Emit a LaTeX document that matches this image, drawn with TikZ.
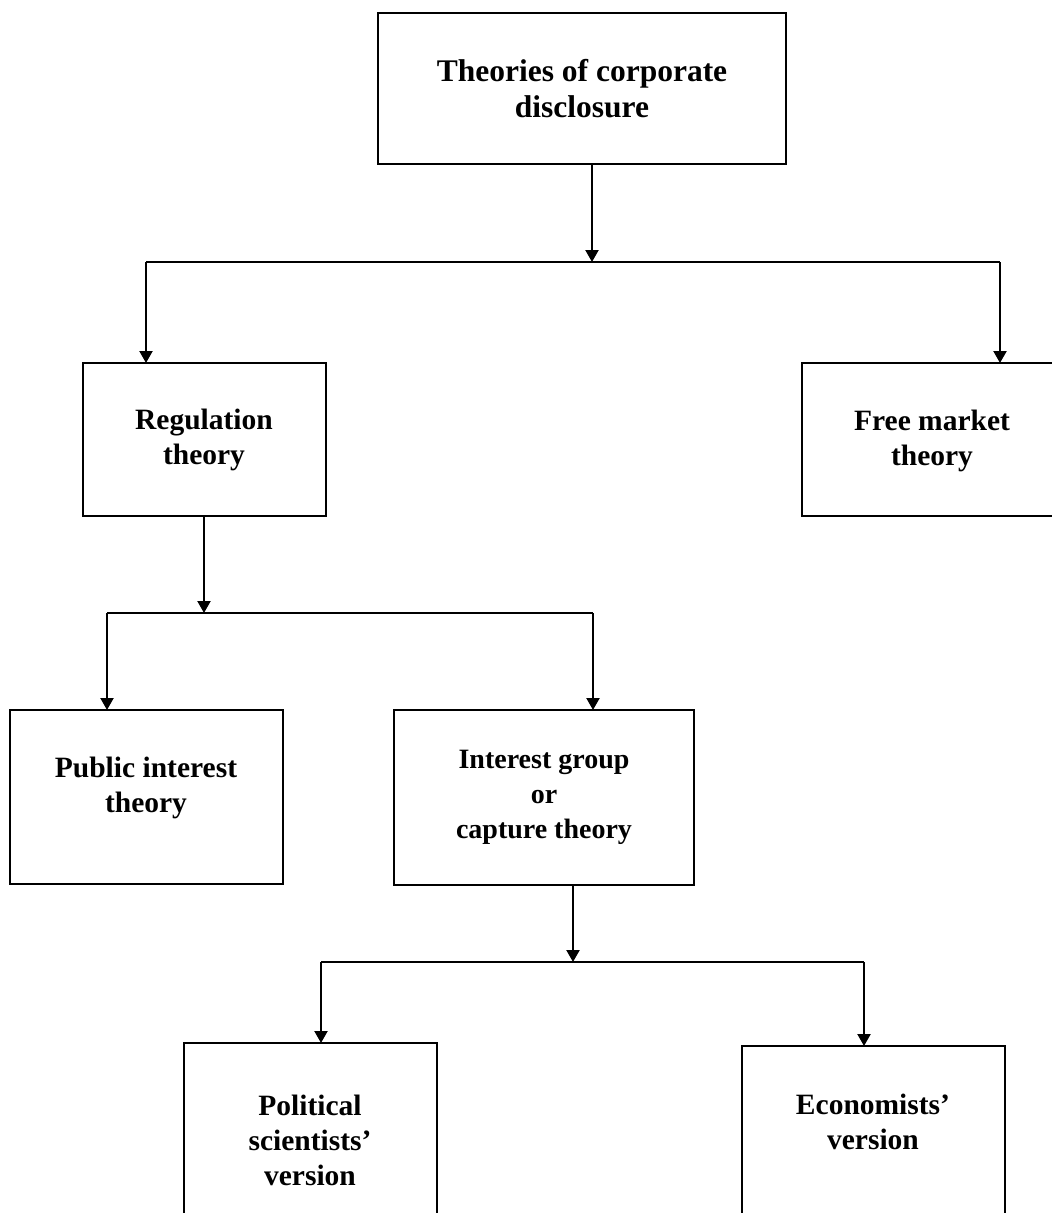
\documentclass[tikz,border=0pt]{standalone}
\usepackage{fontspec}
\setmainfont{Liberation Serif}
\usetikzlibrary{arrows.meta}

\begin{document}
\begin{tikzpicture}[x=1pt,y=-1pt,
  box/.style={draw, line width=2.8pt, inner sep=0pt, outer sep=0pt},
  label text/.style={align=center, inner sep=0pt,
    font=\fontsize{29.5}{35}\selectfont\bfseries},
  bus/.style={line width=2.8pt},
  flow/.style={line width=2.2pt, -{Triangle[width=13pt,length=12pt]}}]

  % page frame
  \useasboundingbox (0,0) rectangle (1052,1213);
  \clip (0,0) rectangle (1052,1213);

  % boxes
  \node[box, minimum width=408pt, minimum height=151pt] (top) at (582,88.5) {};
  \node[box, minimum width=243pt, minimum height=153pt] (reg) at (204.5,439.5) {};
  \node[box, minimum width=260pt, minimum height=153pt] (free) at (932,439.5) {};
  \node[box, minimum width=273pt, minimum height=174pt] (pub) at (146.5,797) {};
  \node[box, minimum width=300pt, minimum height=175pt] (int) at (544,797.5) {};
  \node[box, minimum width=253pt, minimum height=207pt] (pol) at (310.5,1146.5) {};
  \node[box, minimum width=263pt, minimum height=204pt] (eco) at (873.5,1148) {};

  % box captions
  \node[label text, font=\fontsize{31.5}{36}\selectfont\bfseries] (top-t) at (582,89)
    {Theories of corporate\\disclosure};
  \node[label text] (reg-t) at (204,440) {Regulation\\theory};
  \node[label text] (free-t) at (932,441) {Free market\\theory};
  \node[label text] (pub-t) at (146,788) {Public interest\\theory};
  \node[label text, font=\fontsize{28}{35}\selectfont\bfseries] (int-t) at (544,797)
    {Interest group\\or\\capture theory};
  \node[label text] (pol-t) at (310,1140) {Political\\scientists'\\version};
  \node[label text] (eco-t) at (873,1122) {Economists'\\version};

  % first level: disclosure theories
  \coordinate (j1) at (592,262);
  \coordinate (j1l) at (146,262);
  \coordinate (j1r) at (1000,262);
  \draw[flow] (top.south -| j1) -- (j1);
  \draw[bus] (j1l) -- (j1r);
  \draw[flow] (j1l) -- (reg.north -| j1l);
  \draw[flow] (j1r) -- (free.north -| j1r);

  % second level: regulation theory
  \coordinate (j2) at (204,613);
  \coordinate (j2l) at (107,613);
  \coordinate (j2r) at (593,613);
  \draw[flow] (reg.south -| j2) -- (j2);
  \draw[bus] (j2l) -- (j2r);
  \draw[flow] (j2l) -- (pub.north -| j2l);
  \draw[flow] (j2r) -- (int.north -| j2r);

  % third level: capture theory
  \coordinate (j3) at (573,962);
  \coordinate (j3l) at (321,962);
  \coordinate (j3r) at (864,962);
  \draw[flow] (int.south -| j3) -- (j3);
  \draw[bus] (j3l) -- (j3r);
  \draw[flow] (j3l) -- (pol.north -| j3l);
  \draw[flow] (j3r) -- (eco.north -| j3r);
\end{tikzpicture}
\end{document}
